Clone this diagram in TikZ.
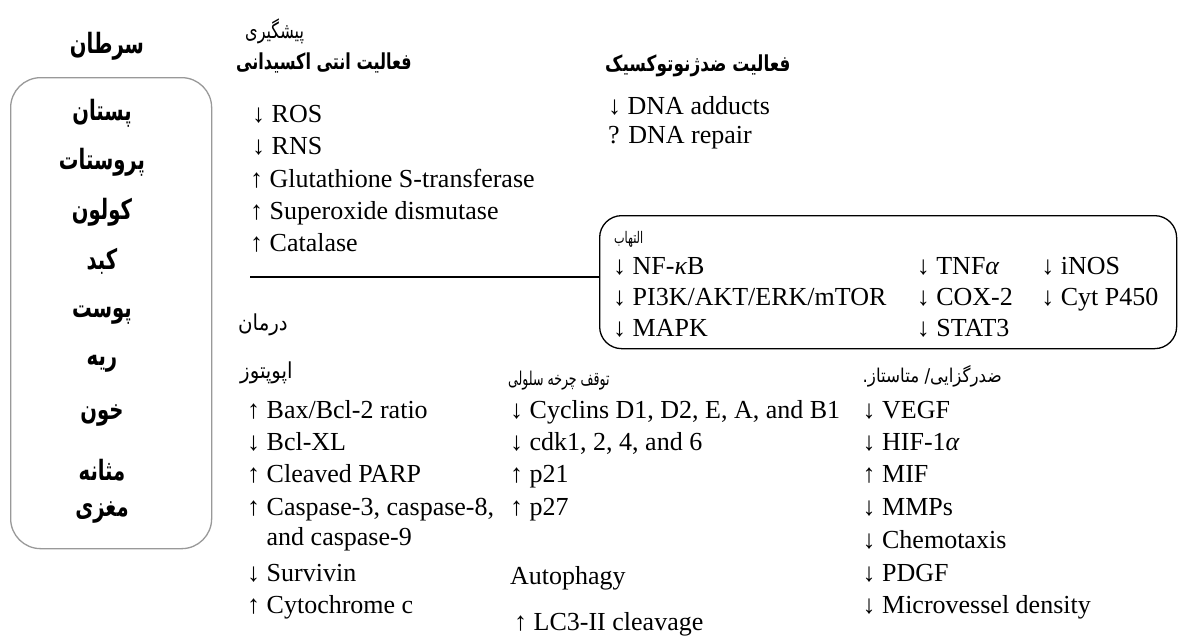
\documentclass[tikz,border=0pt]{standalone}
\usepackage{graphicx}
\usepackage{fontspec}
\setmainfont{Liberation Serif}
\newfontfamily\fa[Script=Arabic]{DejaVu Sans}
\TeXXeTstate=1
\usetikzlibrary{calc}
\tikzset{
  lat/.style={anchor=base west, inner sep=0pt, font=\fontsize{26}{30}\selectfont},
  fah/.style={anchor=west, inner sep=0pt, font=\fa\fontsize{22}{26}\selectfont},
  fahb/.style={anchor=west, inner sep=0pt, font=\fa\bfseries\fontsize{22}{26}\selectfont},
  organ/.style={inner sep=0pt, font=\fa\bfseries\fontsize{28}{32}\selectfont},
  graybox/.style={draw=gray!80, line width=1.3pt, rounded corners=30pt, inner sep=0pt},
  blackbox/.style={draw=black, line width=1.3pt, rounded corners=22pt, inner sep=0pt},
}
\begin{document}
\begin{tikzpicture}[x=1pt,y=-1pt]
\useasboundingbox (0,0) rectangle (1179,637);
\fill[white] (0,0) rectangle (1179,637);

% left: cancer types
\node[organ] (cancer) at (107,46) {\scalebox{0.7}[1]{\beginR سرطان\endR}};
\node[graybox, anchor=north west, minimum width=201pt, minimum height=471pt] (organbox) at (10,77) {};
\node[organ] (o1) at (102,113) {\scalebox{0.7}[1]{\beginR پستان\endR}};
\node[organ] (o2) at (102,162) {\scalebox{0.7}[1]{\beginR پروستات\endR}};
\node[organ] (o3) at (102,212) {\scalebox{0.7}[1]{\beginR کولون\endR}};
\node[organ] (o4) at (102,261) {\scalebox{0.7}[1]{\beginR کبد\endR}};
\node[organ] (o5) at (102,315) {\scalebox{0.7}[1]{\beginR پوست\endR}};
\node[organ] (o6) at (102,364) {\scalebox{0.7}[1]{\beginR ریه\endR}};
\node[organ] (o7) at (102,415) {\scalebox{0.7}[1]{\beginR خون\endR}};
\node[organ] (o8) at (102,470) {\scalebox{0.7}[1]{\beginR مثانه\endR}};
\node[organ] (o9) at (102,512) {\scalebox{0.7}[1]{\beginR مغزی\endR}};

% prevention
\node[fah] (prev) at (245,31) {\scalebox{0.73}[1]{\beginR پیشگیری\endR}};
\node[fahb] (antiox) at (236,63) {\scalebox{0.73}[1]{\beginR فعالیت انتی اکسیدانی\endR}};
\node[lat] (ros) at (252,122) {↓ ROS};
\node[lat] (rns) at (252,154) {↓ RNS};
\node[lat] (gst) at (250,187) {↑ Glutathione S-transferase};
\node[lat] (sod) at (250,219) {↑ Superoxide dismutase};
\node[lat] (cat) at (250,251) {↑ Catalase};

\node[fahb] (antigen) at (605,66) {\scalebox{0.77}[1]{\beginR فعالیت ضدژنوتوکسیک\endR}};
\node[lat] (dnaadd) at (608,114) {↓ DNA adducts};
\node[lat] (dnarep) at (608,143) {? DNA repair};

% inflammation box and separator
\node[blackbox, anchor=north west, minimum width=577pt, minimum height=133pt] (inflbox) at (599,215) {};
\coordinate (ls) at (250,277);
\draw[line width=1.3pt] (ls) -- (ls -| inflbox.west);
\node[fah, font=\fa\fontsize{16}{18}\selectfont] (infl) at (614,239) {\scalebox{0.7}[1]{\beginR التهاب\endR}};
\node[lat] (nfkb) at (613,274) {↓ NF-{\itshape κ}B};
\node[lat] (pi3k) at (613,305) {↓ PI3K/AKT/ERK/mTOR};
\node[lat] (mapk) at (613,336) {↓ MAPK};
\node[lat] (cox) at ($(pi3k.base east)+(30,0)$) {↓ COX-2};
\node[lat] (tnf) at ($(cox.base west)+(0,-31)$) {↓ TNF{\itshape α}};
\node[lat] (stat) at ($(cox.base west)+(0,31)$) {↓ STAT3};
\node[lat] (cyt) at ($(cox.base east)+(28,0)$) {↓ Cyt P450};
\node[lat] (inos) at ($(cyt.base west)+(0,-31)$) {↓ iNOS};

% therapy
\node[fah] (ther) at (238,325) {\scalebox{0.9}[1]{\beginR درمان\endR}};
\node[fah] (apop) at (240,373) {\scalebox{0.9}[1]{\beginR اپوپتوز\endR}};
\node[lat] (bax) at (247,418) {↑ Bax/Bcl-2 ratio};
\node[lat] (bcl) at (247,450) {↓ Bcl-XL};
\node[lat] (parp) at (247,482) {↑ Cleaved PARP};
\node[lat] (casp) at (247,515) {↑ Caspase-3, caspase-8,};
\node[lat] (casp2) at (247,545) {\phantom{↑} and caspase-9};
\node[lat] (surv) at (247,581) {↓ Survivin};
\node[lat] (cytc) at (247,613) {↑ Cytochrome c};

% cell cycle
\node[fah, font=\fa\fontsize{19}{22}\selectfont] (cc) at (508,381) {\scalebox{0.66}[1]{\beginR توقف چرخه سلولی\endR}};
\node[lat] (cyc) at (510,418) {↓ Cyclins D1, D2, E, A, and B1};
\node[lat] (cdk) at (510,450) {↓ cdk1, 2, 4, and 6};
\node[lat] (p21) at (510,482) {↑ p21};
\node[lat] (p27) at (510,515) {↑ p27};
\node[lat] (auto) at (510,584) {Autophagy};
\node[lat] (lc3) at (514,630) {↑ LC3-II cleavage};

% angiogenesis / metastasis
\node[lat] (vegf) at ($(cyc.base east)+(22,0)$) {↓ VEGF};
\node[fah, font=\fa\fontsize{19}{22}\selectfont] (angio) at ($(vegf.base west)+(0,-42)$) {\scalebox{0.88}[1]{\beginR ضدرگزایی/ متاستاز.\endR}};
\node[lat] (hif) at ($(vegf.base west)+(0,32)$) {↓ HIF-1{\itshape α}};
\node[lat] (mif) at ($(vegf.base west)+(0,64)$) {↑ MIF};
\node[lat] (mmp) at ($(vegf.base west)+(0,97)$) {↓ MMPs};
\node[lat] (chem) at ($(vegf.base west)+(0,130)$) {↓ Chemotaxis};
\node[lat] (pdgf) at ($(vegf.base west)+(0,163)$) {↓ PDGF};
\node[lat] (micro) at ($(vegf.base west)+(0,195)$) {↓ Microvessel density};
\end{tikzpicture}
\end{document}
